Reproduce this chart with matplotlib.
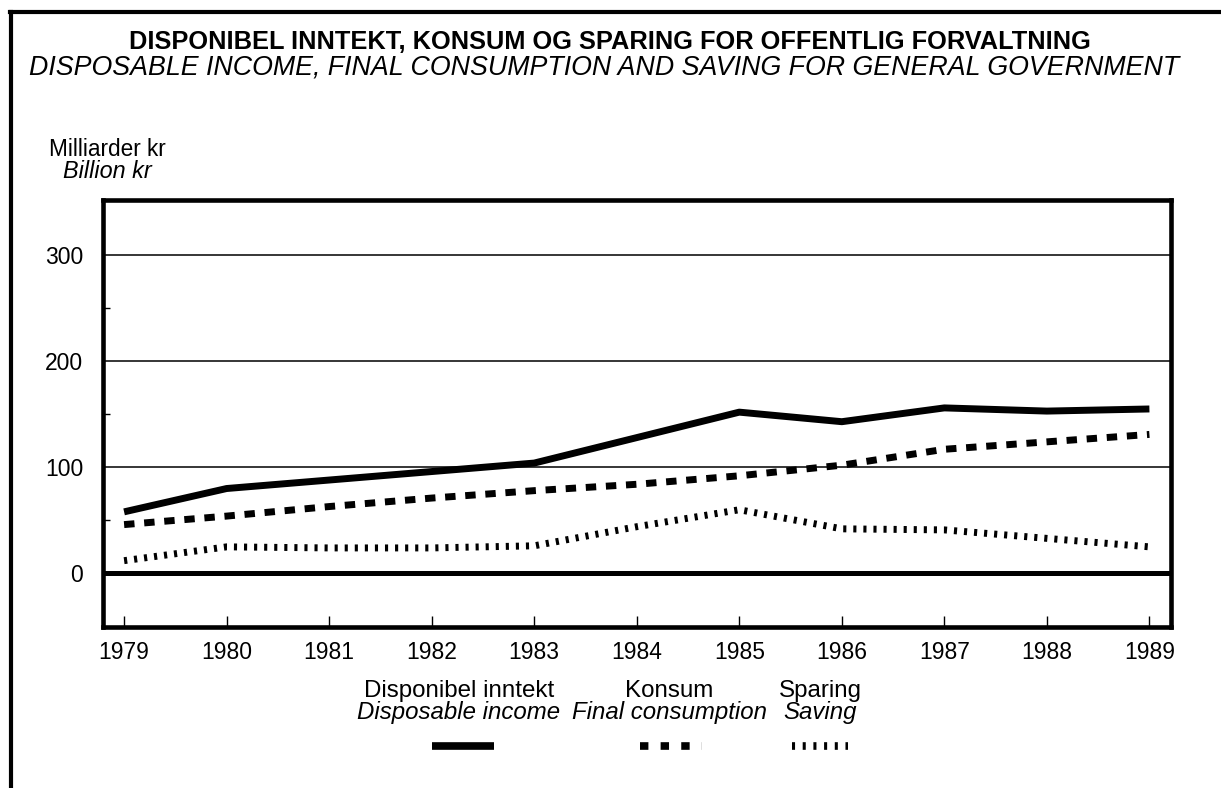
import matplotlib
matplotlib.use("Agg")
import matplotlib.pyplot as plt
from matplotlib.lines import Line2D

# data (billion NOK)
years = [1979, 1980, 1981, 1982, 1983, 1984, 1985, 1986, 1987, 1988, 1989]
disp_income = [58, 80, 88, 96, 104, 128, 152, 143, 156, 153, 155]
consumption = [46, 54, 63, 71, 78, 84, 92, 102, 117, 124, 131]
saving = [12, 25, 24, 24, 26, 44, 60, 42, 41, 33, 25]

yticks = [0, 100, 200, 300]
yminor = [50, 150, 250]

plt.rcParams['font.family'] = ['Liberation Sans', 'DejaVu Sans']

fig = plt.figure(figsize=(12.21, 7.88), dpi=100)
ax = fig.add_axes([0.084, 0.2037, 0.875, 0.5425])

# grid + zero line
for v in yticks[1:]:
    ax.axhline(v, color='black', linewidth=1.1, zorder=1)
ax.axhline(0, color='black', linewidth=3.6, zorder=1)

ax.plot(years, disp_income, color='black', linewidth=5.0, solid_capstyle='butt', zorder=3)
ax.plot(years, consumption, color='black', linewidth=5.0, dashes=(1.5, 1.4),
        dash_capstyle='butt', zorder=3)
ax.plot(years, saving, color='black', linewidth=5.0, dashes=(0.45, 1.0),
        dash_capstyle='butt', zorder=3)

ax.set_xlim(1978.79, 1989.21)
ax.set_ylim(-51, 352)
ax.set_xticks(years)
ax.set_xticklabels([str(y) for y in years])
ax.set_yticks(yticks)
ax.set_yticks(yminor, minor=True)
ax.tick_params(axis='x', direction='in', length=8, width=1, pad=10, labelsize=16.5)
ax.tick_params(axis='y', which='major', length=0, pad=14, labelsize=16.5)
ax.tick_params(axis='y', which='minor', direction='in', length=5, width=1)
for s in ax.spines.values():
    s.set_linewidth(3.3)

# outer frame (top + left only visible)
fig.add_artist(Line2D([10 / 1221, 1.0], [1 - 12 / 788, 1 - 12 / 788], color='black', linewidth=3))
fig.add_artist(Line2D([11 / 1221, 11 / 1221], [0, 1 - 12 / 788], color='black', linewidth=3))

# titles
fig.text(610 / 1221, 1 - 42 / 788, 'DISPONIBEL INNTEKT, KONSUM OG SPARING FOR OFFENTLIG FORVALTNING',
         ha='center', va='center', fontsize=18.3, fontweight='bold')
fig.text(604 / 1221, 1 - 68 / 788, 'DISPOSABLE INCOME, FINAL CONSUMPTION AND SAVING FOR GENERAL GOVERNMENT',
         ha='center', va='center', fontsize=19.3, style='italic')
fig.text(107 / 1221, 1 - 149 / 788, 'Milliarder kr', ha='center', va='center', fontsize=16.3)
fig.text(107 / 1221, 1 - 172 / 788, 'Billion kr', ha='center', va='center', fontsize=16.8, style='italic')

# legend, drawn by hand
leg = [
    (459, 'Disponibel inntekt', 'Disposable income', (432, 494),
     dict(linewidth=5.5, solid_capstyle='butt')),
    (669, 'Konsum', 'Final consumption', (640, 702),
     dict(linewidth=5.5, dashes=(1.1, 1.6), dash_capstyle='butt')),
    (820, 'Sparing', 'Saving', (792, 848),
     dict(linewidth=5.5, dashes=(0.4, 1.0), dash_capstyle='butt')),
]
for xc, t1, t2, (xa, xb), kw in leg:
    fig.text(xc / 1221, 1 - 691 / 788, t1, ha='center', va='center', fontsize=17.4)
    fig.text(xc / 1221, 1 - 713 / 788, t2, ha='center', va='center', fontsize=17.3, style='italic')
    fig.add_artist(Line2D([xa / 1221, xb / 1221], [1 - 746 / 788, 1 - 746 / 788], color='black', **kw))

fig.savefig('out.png', dpi=100, facecolor='white')
